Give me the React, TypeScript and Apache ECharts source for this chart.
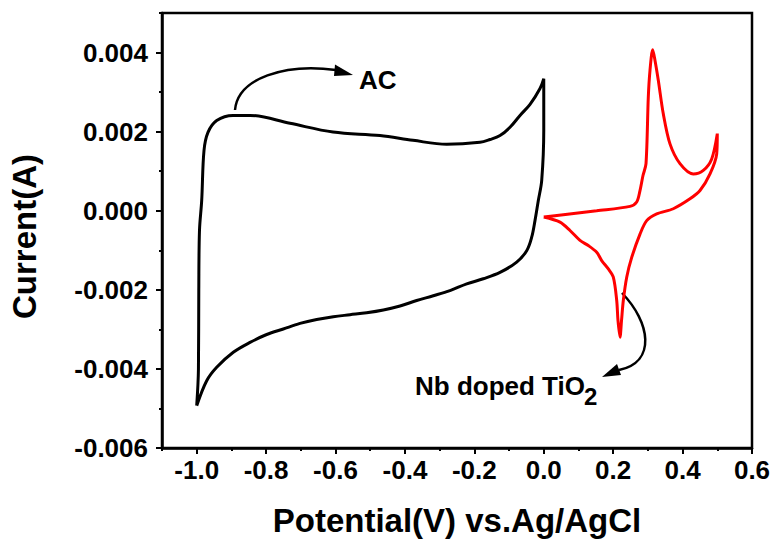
import React, { useEffect, useRef } from "react";
import * as echarts from "echarts";

// AC cyclic voltammogram (black), loop order starting at the -1.0 V vertex
const acPotential = [
  -1.0, -0.995, -0.994, -0.992, -0.9856, -0.979, -0.9675, -0.9424, -0.8954, -0.8464,
  -0.7312, -0.6073, -0.4719, -0.3768, -0.2797, -0.1837, -0.1549, -0.1261, -0.0973, -0.0685,
  -0.0396, -0.0108, 0.0, 0.0, -0.0059, -0.0157, -0.0253, -0.0348, -0.0492, -0.078,
  -0.1261, -0.1742, -0.2221, -0.2702, -0.3183, -0.3661, -0.4142, -0.4622, -0.5102, -0.5583,
  -0.6064, -0.6543, -0.7024, -0.7505, -0.7983, -0.8464, -0.8946, -0.9424, -0.9712, -1.0,
];
const acCurrent = [
  -0.00493, -0.004, -0.002, -0.0005, 0.00026, 0.00152, 0.00198, 0.00228, 0.00241, 0.00241,
  0.00221, 0.00199, 0.0019, 0.00178, 0.00168, 0.00173, 0.0018, 0.0019, 0.00211, 0.00241,
  0.00269, 0.00309, 0.00334, 0.00203, 0.00077, 0.00026, -0.00025, -0.00067, -0.00101, -0.0013,
  -0.00156, -0.00172, -0.00185, -0.00202, -0.00215, -0.00227, -0.00241, -0.00251, -0.00258, -0.00263,
  -0.00268, -0.00275, -0.00285, -0.00299, -0.00313, -0.00333, -0.00358, -0.00396, -0.0043, -0.00493,
];

// Nb doped TiO2 cyclic voltammogram (red), loop order starting at the 0.0 V vertex
const tiPotential = [
  0.0, 0.0563, 0.1525, 0.2485, 0.2678, 0.2773, 0.2859, 0.2946, 0.3012, 0.3061,
  0.3139, 0.3205, 0.33, 0.3444, 0.3637, 0.3925, 0.4308, 0.4597, 0.4839, 0.5,
  0.4983, 0.479, 0.4502, 0.4213, 0.3733, 0.3254, 0.2966, 0.2773, 0.2534, 0.239,
  0.2292, 0.224, 0.2197, 0.2139, 0.2102, 0.2004, 0.186, 0.1669, 0.1525, 0.1283,
  0.1044, 0.0756, 0.0468, 0.0,
];
const tiCurrent = [
  -0.00016, -0.0001, 0.0, 0.00011, 0.00022, 0.00051, 0.00089, 0.00119, 0.00287, 0.00355,
  0.00407, 0.0038, 0.0033, 0.00245, 0.00169, 0.00119, 0.00093, 0.00102, 0.00131, 0.00195,
  0.00144, 0.00093, 0.00051, 0.0003, 0.00005, -0.00008, -0.00025, -0.00059, -0.00118, -0.00168,
  -0.00227, -0.00278, -0.0032, -0.00278, -0.00227, -0.00168, -0.00147, -0.00126, -0.00105, -0.00088,
  -0.00075, -0.0005, -0.00029, -0.00016,
];

const xTitle = "Potential(V) vs.Ag/AgCl";
const yTitle = "Current(A)";
const acLabel = "AC";
const tiLabel = "Nb doped TiO";
const tiSub = "2";

const FONT = "'Liberation Sans', Arial, Helvetica, sans-serif";

export default function App() {
  const ref = useRef<HTMLDivElement>(null);
  useEffect(() => {
    if (!ref.current) return;
    const chart = echarts.init(ref.current, undefined, { renderer: "svg" });
    const W = 590;
    const H = 435;
    const L = 162;
    const T = 13;
    const xStep = W / 17; // 0.1 V
    const yStep = H / 11; // 0.001 A
    const fmtX = (v: number) => {
      const r = Math.round(v * 10) / 10;
      return (Math.abs(r) < 1e-9 ? 0 : r).toFixed(1);
    };
    const fmtY = (v: number) => {
      const r = Math.round(v * 1000) / 1000;
      return (Math.abs(r) < 1e-12 ? 0 : r).toFixed(3);
    };
    const labelStyle = {
      color: "#000",
      fontFamily: FONT,
      fontWeight: "bold" as const,
      fontSize: 26,
    };
    chart.setOption({
      animation: false,
      backgroundColor: "#fff",
      grid: [
        {
          left: L, top: T, width: W, height: H,
          show: true, borderColor: "#000", borderWidth: 2.5, backgroundColor: "transparent",
        },
        {
          left: L + xStep, top: T + yStep, width: W - xStep, height: H - yStep,
          show: false,
        },
      ],
      xAxis: [
        {
          type: "value", gridIndex: 0, min: -1.1, max: 0.6, interval: 0.1,
          axisLine: { show: true, onZero: false, lineStyle: { color: "#000", width: 2.5 } },
          axisTick: { show: true, length: 3, lineStyle: { color: "#000", width: 2 } },
          axisLabel: { show: false },
          splitLine: { show: false },
          name: xTitle, nameLocation: "middle", nameGap: 56,
          nameTextStyle: { color: "#000", fontFamily: FONT, fontWeight: "bold", fontSize: 33 },
        },
        {
          type: "value", gridIndex: 1, min: -1.0, max: 0.6, interval: 0.2,
          axisLine: { show: false, onZero: false },
          axisTick: { show: true, length: 6, lineStyle: { color: "#000", width: 2 } },
          axisLabel: { ...labelStyle, margin: 9, formatter: fmtX, showMinLabel: true, showMaxLabel: true },
          splitLine: { show: false },
        },
      ],
      yAxis: [
        {
          type: "value", gridIndex: 0, min: -0.006, max: 0.005, interval: 0.001,
          axisLine: { show: true, onZero: false, lineStyle: { color: "#000", width: 2.5 } },
          axisTick: { show: true, length: 3, lineStyle: { color: "#000", width: 2 } },
          axisLabel: { show: false },
          splitLine: { show: false },
          name: yTitle, nameLocation: "middle", nameGap: 121,
          nameTextStyle: { color: "#000", fontFamily: FONT, fontWeight: "bold", fontSize: 33, padding: [0, 12, 0, 0] },
        },
        {
          type: "value", gridIndex: 1, min: -0.006, max: 0.004, interval: 0.002,
          offset: xStep,
          axisLine: { show: false, onZero: false },
          axisTick: { show: true, length: 6, lineStyle: { color: "#000", width: 2 } },
          axisLabel: { ...labelStyle, margin: 14, formatter: fmtY, showMinLabel: true, showMaxLabel: true },
          splitLine: { show: false },
        },
      ],
      series: [
        {
          type: "line", xAxisIndex: 0, yAxisIndex: 0, name: "AC",
          data: acPotential.map((x, i) => [x, acCurrent[i]]),
          showSymbol: false, smooth: 0.35,
          lineStyle: { color: "#000", width: 3 },
        },
        {
          type: "line", xAxisIndex: 0, yAxisIndex: 0, name: "Nb doped TiO2",
          data: tiPotential.map((x, i) => [x, tiCurrent[i]]),
          showSymbol: false, smooth: 0.3,
          lineStyle: { color: "#ff0000", width: 3 },
        },
      ],
      graphic: [
        {
          type: "bezierCurve",
          shape: { x1: 235, y1: 110, cpx1: 238, cpy1: 78, cpx2: 285, cpy2: 63, x2: 336, y2: 70 },
          style: { stroke: "#000", lineWidth: 2.5, fill: null },
        },
        {
          type: "polygon",
          shape: { points: [[353, 75], [335, 64.5], [334, 76]] },
          style: { fill: "#000" },
        },
        {
          type: "text", x: 359, y: 80,
          style: { text: acLabel, fill: "#000", fontFamily: FONT, fontWeight: "bold", fontSize: 26, verticalAlign: "middle" },
        },
        {
          type: "bezierCurve",
          shape: { x1: 622, y1: 293, cpx1: 650, cpy1: 322, cpx2: 657, cpy2: 362, x2: 619, y2: 370 },
          style: { stroke: "#000", lineWidth: 2.5, fill: null },
        },
        {
          type: "polygon",
          shape: { points: [[602, 377], [617, 364], [621, 375]] },
          style: { fill: "#000" },
        },
        {
          type: "text", x: 415, y: 386,
          style: { text: tiLabel, fill: "#000", fontFamily: FONT, fontWeight: "bold", fontSize: 26, verticalAlign: "middle" },
        },
        {
          type: "text", x: 584, y: 396,
          style: { text: tiSub, fill: "#000", fontFamily: FONT, fontWeight: "bold", fontSize: 24, verticalAlign: "middle" },
        },
      ],
    });
    return () => chart.dispose();
  }, []);
  return (
    <div
      ref={ref}
      style={{ position: "fixed", left: 0, top: 0, width: 775, height: 545, background: "#fff" }}
    />
  );
}
